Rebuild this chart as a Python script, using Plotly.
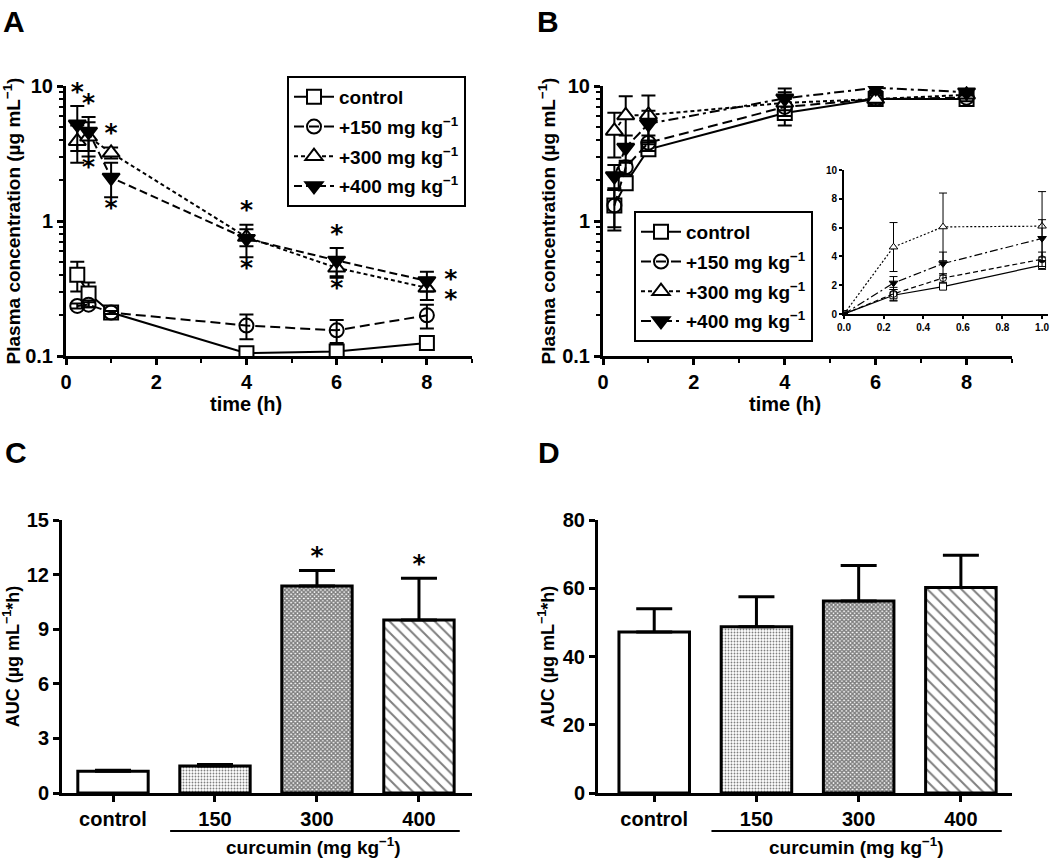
"""Curcumin PK figure: plasma concentration vs time (A, B) and AUC bars (C, D)."""

import plotly.graph_objects as go

W, H = 1064, 860
FONT = "Liberation Sans, Arial, sans-serif"

# ---------------- data ----------------
time_h = [0.25, 0.5, 1, 4, 6, 8]
series_names = [
    "control",
    "+150 mg kg<sup>−1</sup>",
    "+300 mg kg<sup>−1</sup>",
    "+400 mg kg<sup>−1</sup>",
]

# panel A (log scale)
a_ctrl = [0.40, 0.29, 0.21, 0.105, 0.108, 0.125]
a_ctrl_err = [0.10, 0.06, 0.01, 0.004, 0.004, 0.004]
a_150 = [0.235, 0.24, 0.21, 0.168, 0.155, 0.20]
a_150_err = [0.01, 0.01, 0.005, 0.035, 0.03, 0.04]
a_300 = [3.9, 4.2, 3.2, 0.76, 0.45, 0.32]
a_300_err = [1.2, 1.2, 0.3, 0.11, 0.07, 0.06]
a_400 = [5.2, 4.6, 2.1, 0.74, 0.51, 0.36]
a_400_err = [1.9, 1.3, 0.6, 0.2, 0.12, 0.06]

# panel B (log scale)
b_ctrl = [1.3, 1.9, 3.4, 6.3, 8.0, 8.0]
b_ctrl_err = [0.4, 0.2, 0.3, 1.2, 0.5, 0.4]
b_150 = [1.3, 2.5, 3.8, 7.0, 8.0, 8.2]
b_150_err = [0.45, 0.3, 0.5, 1.0, 0.5, 0.5]
b_300 = [4.65, 6.05, 6.1, 7.5, 8.0, 8.6]
b_300_err = [1.7, 2.35, 2.4, 1.5, 0.8, 0.5]
b_400 = [2.15, 3.5, 5.25, 8.1, 9.7, 9.0]
b_400_err = [0.45, 0.8, 1.3, 1.5, 0.5, 0.5]

# inset of B: first hour, linear scale
inset_time = [0.0, 0.25, 0.5, 1.0]
inset_ctrl = [0.0, 1.3, 1.9, 3.4]
inset_150 = [0.0, 1.4, 2.5, 3.8]
inset_300 = [0.0, 4.65, 6.05, 6.1]
inset_400 = [0.0, 2.15, 3.5, 5.25]
inset_300_err = [0.0, 1.7, 2.35, 2.4]
inset_400_err = [0.0, 0.45, 0.8, 1.3]
inset_ctrl_err = [0.0, 0.4, 0.2, 0.3]
inset_150_err = [0.0, 0.45, 0.3, 0.5]

# AUC bars
groups = ["control", "150", "300", "400"]
auc_c = [1.2, 1.48, 11.37, 9.5]
auc_c_err = [0.05, 0.08, 0.85, 2.3]
auc_c_sig = [False, False, True, True]
auc_d = [47.2, 48.7, 56.3, 60.2]
auc_d_err = [6.8, 8.8, 10.4, 9.5]

# significance stars in A (indices into time_h)
a_star_above = [0, 1, 2, 3, 4]
a_star_below = [1, 2, 3, 4]
a_star_side = [5]


def px_x(v):
    return v / W


def px_y(v):
    return 1 - v / H


STYLES = [
    dict(symbol="square", fill="white", dash="solid", size=14),
    dict(symbol="circle", fill="rgba(0,0,0,0)", dash="10px,5px", size=14),
    dict(symbol="triangle-up", fill="white", dash="4px,3px", size=15),
    dict(symbol="triangle-down", fill="black", dash="8px,4px", size=15),
]
B_DASH = ["solid", "10px,5px", "4px,3px", "10px,4px,3px,4px"]
INSET_DASH = ["solid", "5px,3px", "2px,2px", "8px,3px,2px,3px"]

fig = go.Figure()


def add_series(x, ys, errs, xa, ya, legend, dashes, small=False, lw=2, show=True):
    for i, (y, e) in enumerate(zip(ys, errs)):
        st = STYLES[i]
        fig.add_trace(go.Scatter(
            x=x, y=y, xaxis=xa, yaxis=ya,
            name=series_names[i], legend=legend, legendgroup=f"{legend}{i}",
            showlegend=show,
            mode="lines+markers",
            line=dict(color="black", width=lw, dash=dashes[i]),
            marker=dict(symbol=st["symbol"], size=st["size"] * (0.5 if small else 1),
                        color=st["fill"],
                        line=dict(color="black", width=1 if small else 2)),
            error_y=dict(type="data", array=e, color="black",
                         thickness=1 if small else 2,
                         width=4 if small else 7),
        ))


def add_stars(x, y, where, xa, ya, label="*"):
    fig.add_trace(go.Scatter(
        x=x, y=y, mode="text", text=[label] * len(x), textposition=where,
        textfont=star_font, xaxis=xa, yaxis=ya, showlegend=False,
        hoverinfo="skip", cliponaxis=False))


star_font = dict(family="DejaVu Sans", size=25, color="black", weight="bold")

# ---------------- panel A ----------------
add_series(time_h, [a_ctrl, a_150, a_300, a_400],
           [a_ctrl_err, a_150_err, a_300_err, a_400_err],
           "x", "y", "legend", [s["dash"] for s in STYLES])

hi = [max(a_300[i] + a_300_err[i], a_400[i] + a_400_err[i]) for i in range(len(time_h))]
lo = [min(a_300[i] - a_300_err[i], a_400[i] - a_400_err[i]) for i in range(len(time_h))]
add_stars([time_h[i] for i in a_star_above], [hi[i] for i in a_star_above],
          "top center", "x", "y")
add_stars([time_h[i] for i in a_star_below], [lo[i] for i in a_star_below],
          "bottom center", "x", "y")
add_stars([time_h[i] for i in a_star_side] * 2,
          [a_400[i] for i in a_star_side] + [a_300[i] * 0.8 for i in a_star_side],
          "middle right", "x", "y", label="  *")

# ---------------- panel B ----------------
add_series(time_h, [b_ctrl, b_150, b_300, b_400],
           [b_ctrl_err, b_150_err, b_300_err, b_400_err],
           "x2", "y2", "legend2", B_DASH)

# inset
add_series(inset_time, [inset_ctrl, inset_150, inset_300, inset_400],
           [inset_ctrl_err, inset_150_err, inset_300_err, inset_400_err],
           "x3", "y3", "legend", INSET_DASH, small=True, lw=1.2, show=False)

# ---------------- panels C and D ----------------
PAT = dict(
    shape=["", ".", "x", "\\"],
    fgcolor="black",
    bgcolor=["white", "white", "white", "white"],
    size=[6, 3, 3, 8],
    solidity=[0.1, 0.3, 0.75, 0.25],
)
pos = list(range(len(groups)))
for vals, errs, xa, ya in [(auc_c, auc_c_err, "x4", "y4"), (auc_d, auc_d_err, "x5", "y5")]:
    fig.add_trace(go.Bar(
        x=pos, y=vals, xaxis=xa, yaxis=ya, width=0.69, showlegend=False,
        marker=dict(color="white", line=dict(color="black", width=3), pattern=PAT),
        error_y=dict(type="data", symmetric=False, array=errs, arrayminus=[0] * len(errs),
                     color="black", thickness=3, width=18),
    ))
add_stars([p for p, s in zip(pos, auc_c_sig) if s],
          [v + e for v, e, s in zip(auc_c, auc_c_err, auc_c_sig) if s],
          "top center", "x4", "y4")

# ---------------- axes ----------------
tickfont = dict(family=FONT, size=20, color="black", weight="bold")
titlefont = dict(family=FONT, size=19, color="black", weight="bold")
base_axis = dict(showline=True, linecolor="black", linewidth=3, showgrid=False,
                 zeroline=False, ticks="outside", ticklen=6, tickwidth=3,
                 tickcolor="black", tickfont=tickfont, automargin=False)
log_minor = [0.2, 0.3, 0.4, 0.5, 0.6, 0.7, 0.8, 0.9, 2, 3, 4, 5, 6, 7, 8, 9]
conc_title = "Plasma concentration (µg mL<sup>−1</sup>)"

for xa, ya, x0, x1 in [("xaxis", "yaxis", 66, 472), ("xaxis2", "yaxis2", 603, 1012)]:
    anchor_x = "y" if xa == "xaxis" else "y2"
    anchor_y = "x" if ya == "yaxis" else "x2"
    fig.update_layout({
        xa: dict(base_axis, domain=[px_x(x0), px_x(x1)], range=[0, 9], anchor=anchor_x,
                 tickvals=[0, 2, 4, 6, 8],
                 minor=dict(tickvals=[1, 3, 5, 7, 9], ticks="outside", ticklen=4,
                            tickwidth=2, tickcolor="black")),
        ya: dict(base_axis, type="log", domain=[px_y(356), px_y(86)], range=[-1, 1],
                 anchor=anchor_y, tickvals=[0.1, 1, 10], ticktext=["0.1", "1", "10"],
                 minor=dict(tickvals=log_minor, ticks="outside", ticklen=4,
                            tickwidth=2, tickcolor="black"),
                 title=dict(text=conc_title, font=titlefont, standoff=2)),
    })

# "time (h)" is centred under the 0-8 h span, as in the original
for xr_name in ["x", "x2"]:
    fig.add_annotation(xref=xr_name, yref="paper", x=4, y=px_y(404), text="time (h)",
                       showarrow=False, font=dict(titlefont, size=20), yanchor="middle")

inset_tick = dict(family=FONT, size=10, color="black", weight="bold")
inset_axis = dict(showline=True, linecolor="black", linewidth=2, showgrid=False,
                  zeroline=False, ticks="outside", ticklen=3, tickwidth=1.5,
                  tickcolor="black", tickfont=inset_tick, automargin=False)
fig.update_layout(
    xaxis3=dict(inset_axis, domain=[px_x(844), px_x(1048)], range=[0, 1.03],
                tickvals=[0, 0.2, 0.4, 0.6, 0.8, 1.0], tickformat=".1f", anchor="y3"),
    yaxis3=dict(inset_axis, domain=[px_y(314), px_y(170)], range=[0, 10],
                tickvals=[0, 2, 4, 6, 8, 10], anchor="x3"),
)

auc_title = "AUC (µg mL<sup>−1</sup>*h)"
for xa, ya, x0, x1, xr, yr, dt in [
    ("xaxis4", "yaxis4", 62, 472, [-0.5, 3.52], [0, 15], 3),
    ("xaxis5", "yaxis5", 598, 1012, [-0.55, 3.5], [0, 80], 20),
]:
    n = xa[-1]
    fig.update_layout({
        xa: dict(base_axis, domain=[px_x(x0), px_x(x1)], range=xr, anchor=f"y{n}",
                 tickvals=pos, ticktext=groups),
        ya: dict(base_axis, domain=[px_y(793), px_y(520)], range=yr, anchor=f"x{n}",
                 dtick=dt, title=dict(text=auc_title, font=dict(titlefont, size=18),
                                      standoff=4)),
    })

# bracket under the curcumin doses + label
for xr_name, xc in [("x4", 1.97), ("x5", 1.98)]:
    fig.add_shape(type="line", xref=xr_name, yref="paper", x0=0.56, x1=3.4,
                  y0=px_y(831), y1=px_y(831), line=dict(color="black", width=2))
    fig.add_annotation(xref=xr_name, yref="paper", x=xc, y=px_y(846),
                       text="curcumin (mg kg<sup>−1</sup>)", showarrow=False,
                       font=dict(titlefont, size=19), yanchor="middle")

# panel letters
for letter, lx, ly in [("A", 1, 22), ("B", 535, 22), ("C", 3, 452), ("D", 536, 452)]:
    fig.add_annotation(xref="paper", yref="paper", x=px_x(lx), y=px_y(ly),
                       xanchor="left", yanchor="middle", text=letter, showarrow=False,
                       font=dict(family=FONT, size=30, color="black", weight="bold"))

legend_style = dict(bgcolor="white", bordercolor="black", borderwidth=2,
                    font=dict(family=FONT, size=19, color="black", weight="bold"),
                    xanchor="left", yanchor="top", tracegroupgap=2, itemwidth=40,
                    traceorder="grouped")
fig.update_layout(
    width=W, height=H,
    margin=dict(l=0, r=0, t=0, b=0),
    paper_bgcolor="white", plot_bgcolor="white",
    font=dict(family=FONT, color="black"),
    legend=dict(legend_style, x=px_x(287), y=px_y(76)),
    legend2=dict(legend_style, x=px_x(634), y=px_y(211)),
)

# the page's default body margin would push the figure 8px off
fig.write_html("out.html", config={"displayModeBar": False},
               post_script="document.body.style.margin='0';")
